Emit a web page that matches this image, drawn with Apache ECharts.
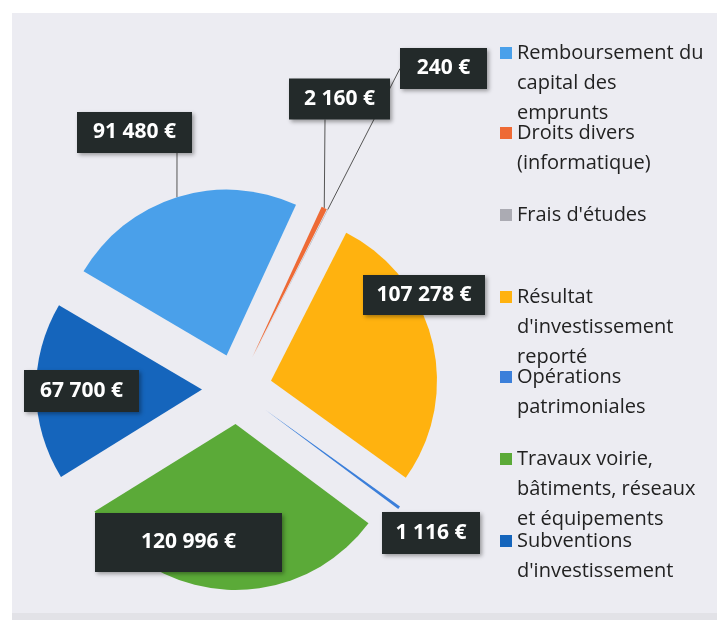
<!DOCTYPE html>
<html>
<head>
<meta charset="utf-8">
<script src="https://cdn.jsdelivr.net/npm/echarts@6/dist/echarts.min.js"></script>
<style>
html,body{margin:0;padding:0;background:#fff;}
#chart{width:717px;height:620px;}
</style>
</head>
<body>
<div id="chart"></div>
<script>
// ---- data ----
const NAMES = [
  "Remboursement du capital des emprunts",
  "Droits divers (informatique)",
  "Frais d'études",
  "Résultat d'investissement reporté",
  "Opérations patrimoniales",
  "Travaux voirie, bâtiments, réseaux et équipements",
  "Subventions d'investissement"
];
const VALUES = [91480, 2160, 240, 107278, 1116, 120996, 67700];
const LEGEND_LINES = [
  ["Remboursement du", "capital des", "emprunts"],
  ["Droits divers", "(informatique)"],
  ["Frais d'études"],
  ["Résultat", "d'investissement", "reporté"],
  ["Opérations", "patrimoniales"],
  ["Travaux voirie,", "bâtiments, réseaux", "et équipements"],
  ["Subventions", "d'investissement"]
];

// ---- styles ----
const COLORS = ['#4AA0EA', '#EE6A35', '#ABABB3', '#FFB20F', '#3B7FDA', '#5BAA38', '#1565BC'];
const CENTER = [237, 389];
const RADIUS = 166;
const START = 149.5;     // echarts startAngle (deg, ccw from 3 o'clock)
const EXPLODE = 35;      // px every slice is pulled out
// label block centres, visible box sizes, transparent spacers (left / right) steering the leader lines
const LABEL_POS = [[177,132.5],[325,99],[443.5,68.5],[424,295],[431,533],[188.5,542.5],[81.5,391]];
const LABEL_BOX = [[115,41],[101,41],[87,41],[122,40],[98,42],[187,59],[115,42]];
const SPACER_L = [0, 29, 0, 0, 0, 0, 0];
const SPACER_R = [85, 0, 0, 0, 0, 0, 0];
const SHOW_LINE = [true, true, true, false, false, false, false];
const LEGEND_TOP = [38, 118, 200, 282, 362, 444, 526];
const LH = 30;
const BOX_BG = '#232A2A';

function fmt(v){ return String(v).replace(/\B(?=(\d{3})+(?!\d))/g, ' ') + ' €'; }

const total = VALUES.reduce((a, b) => a + b, 0);
let cum = 0;
const MIDS = VALUES.map(v => { const m = (90 - START) + (cum + v / 2) / total * 360; cum += v; return m; });

const TXT = {color: '#ffffff', fontFamily: 'Open Sans', fontWeight: 'bold', fontSize: 21};
const SHADOW = {shadowBlur: 4, shadowColor: 'rgba(0,0,0,0.35)', shadowOffsetX: 2, shadowOffsetY: 2};

function labelFor(i) {
  if (SPACER_L[i] > 0 || SPACER_R[i] > 0) {
    const h = LABEL_BOX[i][1];
    return {
      show: true,
      backgroundColor: 'transparent',
      shadowBlur: 0, shadowOffsetX: 0, shadowOffsetY: 0,
      formatter: (p) => (SPACER_L[i] ? '{l| }' : '') + '{b|' + fmt(p.value) + '}' + (SPACER_R[i] ? '{r| }' : ''),
      rich: {
        b: Object.assign({width: LABEL_BOX[i][0], height: h, align: 'center', backgroundColor: BOX_BG}, TXT, SHADOW),
        l: {width: SPACER_L[i], height: h},
        r: {width: SPACER_R[i], height: h}
      }
    };
  }
  return {show: true, width: LABEL_BOX[i][0], height: LABEL_BOX[i][1]};
}

// one pie series per slice so each slice can be pulled out on its own bisector
const series = NAMES.map((_, k) => {
  const a = MIDS[k] * Math.PI / 180;
  return {
    type: 'pie',
    center: [CENTER[0] + EXPLODE * Math.sin(a), CENTER[1] - EXPLODE * Math.cos(a)],
    radius: RADIUS,
    startAngle: START,
    clockwise: true,
    avoidLabelOverlap: false,
    emphasis: {disabled: true},
    silent: true,
    z: 2,
    data: NAMES.map((n, i) => ({
      name: n,
      value: VALUES[i],
      itemStyle: {color: i === k ? COLORS[i] : 'rgba(0,0,0,0)'},
      label: i === k ? labelFor(i) : {show: false},
      labelLine: {show: i === k && SHOW_LINE[i]}
    })),
    label: Object.assign({
      position: 'outside',
      formatter: (p) => fmt(p.value),
      backgroundColor: BOX_BG,
      align: 'center',
      verticalAlign: 'middle'
    }, TXT, SHADOW),
    labelLine: {length: 10, length2: 0, smooth: false, lineStyle: {color: '#555', width: 1}},
    labelLayout: (p) => ({
      x: LABEL_POS[p.dataIndex][0],
      y: LABEL_POS[p.dataIndex][1],
      align: 'center',
      verticalAlign: 'middle'
    })
  };
});

const legends = NAMES.map((n, i) => {
  const h = LEGEND_LINES[i].length * LH;
  const y0 = LH / 2 - 6;
  return {
    orient: 'vertical',
    left: 500,
    top: LEGEND_TOP[i],
    padding: 0,
    itemWidth: 12,
    itemHeight: h,
    selectedMode: false,
    data: [{name: n, icon: 'path://M0,' + y0 + 'h12v12h-12zM0,0M0,' + h, itemStyle: {color: COLORS[i]}}],
    formatter: (name) => LEGEND_LINES[NAMES.indexOf(name)].join('\n'),
    textStyle: {fontFamily: 'Open Sans', fontSize: 20, lineHeight: LH, color: '#222'}
  };
});

const chart = echarts.init(document.getElementById('chart'), null, {renderer: 'canvas'});
chart.setOption({
  backgroundColor: '#ffffff',
  animation: false,
  graphic: [
    {type: 'rect', z: -10, shape: {x: 12, y: 13, width: 705, height: 600}, style: {fill: '#ECECF2'}},
    {type: 'rect', z: -10, shape: {x: 12, y: 613, width: 705, height: 7}, style: {fill: '#E2E2E7'}}
  ],
  legend: legends,
  series: series
});
</script>
</body>
</html>
